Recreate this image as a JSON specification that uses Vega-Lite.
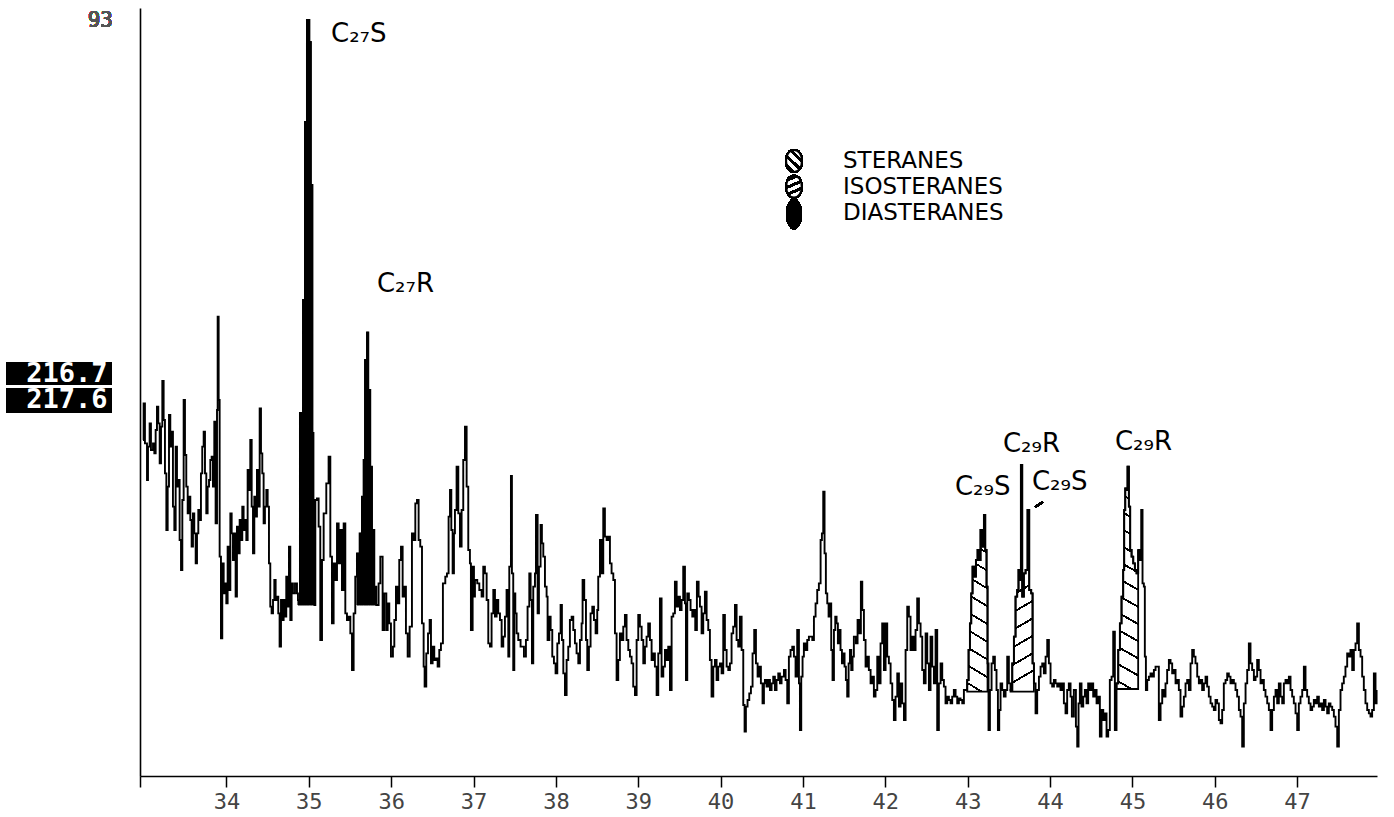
{
  "$schema": "https://vega.github.io/schema/vega-lite/v6.json",
  "width": 1237,
  "height": 768,
  "autosize": {"type": "none"},
  "padding": {"left": 140, "top": 8, "right": 17, "bottom": 41},
  "background": "white",
  "config": {"view": {"stroke": null}, "font": "DejaVu Sans"},
  "datasets": {
    "trace": [
      {"t":32.986,"i":1008},{"t":32.994,"i":1118},{"t":33.010,"i":998},{"t":33.035,"i":888},{"t":33.047,"i":988},{"t":33.067,"i":1058},{"t":33.083,"i":978},{"t":33.108,"i":998},{"t":33.124,"i":968},{"t":33.140,"i":1038},
      {"t":33.156,"i":1108},{"t":33.172,"i":1058},{"t":33.189,"i":938},{"t":33.205,"i":1048},{"t":33.221,"i":1185},{"t":33.237,"i":1068},{"t":33.253,"i":908},{"t":33.270,"i":738},{"t":33.286,"i":868},{"t":33.302,"i":1083},
      {"t":33.318,"i":988},{"t":33.334,"i":1033},{"t":33.350,"i":808},{"t":33.367,"i":738},{"t":33.383,"i":988},{"t":33.399,"i":868},{"t":33.415,"i":888},{"t":33.431,"i":708},{"t":33.448,"i":618},{"t":33.464,"i":828},
      {"t":33.480,"i":1128},{"t":33.496,"i":963},{"t":33.512,"i":868},{"t":33.529,"i":788},{"t":33.545,"i":838},{"t":33.561,"i":768},{"t":33.577,"i":688},{"t":33.593,"i":788},{"t":33.609,"i":728},{"t":33.626,"i":638},
      {"t":33.642,"i":728},{"t":33.658,"i":798},{"t":33.674,"i":768},{"t":33.690,"i":908},{"t":33.706,"i":988},{"t":33.723,"i":1033},{"t":33.739,"i":908},{"t":33.755,"i":788},{"t":33.771,"i":868},{"t":33.788,"i":888},
      {"t":33.804,"i":948},{"t":33.820,"i":958},{"t":33.836,"i":868},{"t":33.852,"i":1063},{"t":33.868,"i":758},{"t":33.885,"i":1098},{"t":33.893,"i":1378},{"t":33.905,"i":1128},{"t":33.917,"i":658},{"t":33.933,"i":413},
      {"t":33.949,"i":638},{"t":33.966,"i":548},{"t":33.982,"i":578},{"t":33.998,"i":518},{"t":34.014,"i":688},{"t":34.030,"i":558},{"t":34.047,"i":788},{"t":34.063,"i":728},{"t":34.079,"i":648},{"t":34.095,"i":728},
      {"t":34.111,"i":538},{"t":34.127,"i":748},{"t":34.144,"i":668},{"t":34.160,"i":768},{"t":34.176,"i":708},{"t":34.192,"i":808},{"t":34.208,"i":738},{"t":34.225,"i":768},{"t":34.241,"i":708},{"t":34.257,"i":918},
      {"t":34.273,"i":858},{"t":34.289,"i":1008},{"t":34.306,"i":808},{"t":34.322,"i":668},{"t":34.338,"i":838},{"t":34.354,"i":778},{"t":34.370,"i":918},{"t":34.386,"i":808},{"t":34.403,"i":1103},{"t":34.419,"i":968},
      {"t":34.435,"i":908},{"t":34.451,"i":758},{"t":34.467,"i":808},{"t":34.484,"i":858},{"t":34.500,"i":808},{"t":34.516,"i":638},{"t":34.532,"i":508},{"t":34.548,"i":488},{"t":34.565,"i":528},{"t":34.581,"i":588},
      {"t":34.597,"i":528},{"t":34.613,"i":538},{"t":34.629,"i":488},{"t":34.645,"i":388},{"t":34.662,"i":528},{"t":34.678,"i":468},{"t":34.694,"i":528},{"t":34.710,"i":478},{"t":34.726,"i":598},{"t":34.743,"i":508},
      {"t":34.759,"i":688},{"t":34.775,"i":468},{"t":34.791,"i":578},{"t":34.807,"i":548},{"t":34.832,"i":578},{"t":34.856,"i":548},
      {"t":34.868,"i":528},{"t":34.892,"i":1089},{"t":34.929,"i":1428},{"t":34.953,"i":1962},{"t":34.977,"i":2268},{"t":35.007,"i":2202},{"t":35.025,"i":1773},{"t":35.044,"i":1029},{"t":35.056,"i":747},{"t":35.068,"i":513},
      {"t":35.079,"i":828},{"t":35.099,"i":833},{"t":35.119,"i":748},{"t":35.139,"i":408},{"t":35.160,"i":648},{"t":35.180,"i":788},{"t":35.212,"i":878},{"t":35.240,"i":958},{"t":35.261,"i":658},{"t":35.281,"i":458},
      {"t":35.301,"i":638},{"t":35.321,"i":588},{"t":35.342,"i":758},{"t":35.362,"i":638},{"t":35.382,"i":738},{"t":35.402,"i":558},{"t":35.423,"i":758},{"t":35.443,"i":488},{"t":35.463,"i":468},{"t":35.483,"i":478},
      {"t":35.504,"i":428},{"t":35.524,"i":318},{"t":35.544,"i":488},{"t":35.564,"i":598},
      {"t":35.584,"i":668},{"t":35.617,"i":728},{"t":35.645,"i":838},{"t":35.665,"i":948},{"t":35.682,"i":1248},{"t":35.706,"i":1331},{"t":35.722,"i":1158},{"t":35.746,"i":928},{"t":35.767,"i":738},{"t":35.795,"i":568},{"t":35.819,"i":513},
      {"t":35.847,"i":578},{"t":35.868,"i":658},{"t":35.896,"i":438},{"t":35.916,"i":548},{"t":35.941,"i":438},{"t":35.957,"i":518},{"t":35.977,"i":458},{"t":35.997,"i":358},{"t":36.021,"i":388},{"t":36.038,"i":468},
      {"t":36.058,"i":568},{"t":36.078,"i":518},{"t":36.098,"i":648},{"t":36.119,"i":688},{"t":36.139,"i":538},{"t":36.159,"i":568},{"t":36.179,"i":428},{"t":36.200,"i":358},{"t":36.224,"i":448},{"t":36.252,"i":728},
      {"t":36.273,"i":708},{"t":36.293,"i":818},{"t":36.313,"i":828},{"t":36.333,"i":708},{"t":36.353,"i":688},{"t":36.374,"i":458},{"t":36.394,"i":328},{"t":36.406,"i":268},{"t":36.426,"i":368},{"t":36.447,"i":428},
      {"t":36.467,"i":468},{"t":36.483,"i":338},{"t":36.503,"i":388},{"t":36.523,"i":348},{"t":36.544,"i":353},{"t":36.564,"i":328},{"t":36.584,"i":378},{"t":36.604,"i":398},{"t":36.628,"i":578},{"t":36.657,"i":598},
      {"t":36.677,"i":608},{"t":36.697,"i":778},
      {"t":36.714,"i":858},{"t":36.730,"i":738},{"t":36.746,"i":608},{"t":36.762,"i":728},{"t":36.774,"i":798},{"t":36.794,"i":928},{"t":36.815,"i":788},{"t":36.835,"i":688},{"t":36.855,"i":798},{"t":36.875,"i":948},
      {"t":36.896,"i":1048},{"t":36.916,"i":868},{"t":36.936,"i":678},{"t":36.956,"i":638},{"t":36.968,"i":438},{"t":36.989,"i":628},{"t":37.005,"i":538},{"t":37.017,"i":588},{"t":37.045,"i":578},{"t":37.070,"i":558},
      {"t":37.098,"i":538},{"t":37.118,"i":628},{"t":37.138,"i":608},{"t":37.159,"i":528},{"t":37.179,"i":398},{"t":37.199,"i":388},{"t":37.219,"i":488},{"t":37.240,"i":558},{"t":37.260,"i":478},{"t":37.280,"i":528},
      {"t":37.300,"i":488},{"t":37.321,"i":468},{"t":37.341,"i":388},{"t":37.361,"i":418},{"t":37.381,"i":478},{"t":37.401,"i":558},{"t":37.422,"i":358},{"t":37.434,"i":628},{"t":37.454,"i":900},{"t":37.466,"i":608},
      {"t":37.482,"i":318},{"t":37.495,"i":548},{"t":37.507,"i":488},{"t":37.523,"i":428},{"t":37.543,"i":408},{"t":37.571,"i":388},{"t":37.612,"i":358},{"t":37.636,"i":408},{"t":37.656,"i":508},{"t":37.677,"i":608},
      {"t":37.693,"i":528},{"t":37.709,"i":338},{"t":37.725,"i":568},{"t":37.746,"i":608},{"t":37.758,"i":783},{"t":37.778,"i":488},{"t":37.794,"i":628},{"t":37.814,"i":753},{"t":37.830,"i":698},{"t":37.847,"i":658},
      {"t":37.867,"i":568},{"t":37.887,"i":538},{"t":37.899,"i":408},{"t":37.920,"i":478},{"t":37.936,"i":438},{"t":37.956,"i":358},{"t":37.976,"i":338},{"t":37.996,"i":308},{"t":38.017,"i":398},{"t":38.037,"i":428},
      {"t":38.057,"i":513},{"t":38.073,"i":408},{"t":38.090,"i":308},{"t":38.110,"i":243},{"t":38.130,"i":348},{"t":38.150,"i":388},{"t":38.170,"i":468},{"t":38.191,"i":478},{"t":38.211,"i":438},{"t":38.231,"i":398},
      {"t":38.251,"i":368},{"t":38.272,"i":338},{"t":38.292,"i":408},{"t":38.312,"i":458},{"t":38.324,"i":588},{"t":38.344,"i":528},{"t":38.365,"i":408},{"t":38.381,"i":318},{"t":38.401,"i":388},{"t":38.421,"i":488},
      {"t":38.442,"i":508},{"t":38.462,"i":468},{"t":38.482,"i":428},{"t":38.502,"i":498},{"t":38.514,"i":598},{"t":38.535,"i":708},{"t":38.555,"i":608},{"t":38.575,"i":803},{"t":38.595,"i":718},{"t":38.616,"i":708},
      {"t":38.636,"i":718},{"t":38.656,"i":638},{"t":38.676,"i":608},{"t":38.697,"i":588},{"t":38.717,"i":428},{"t":38.737,"i":288},{"t":38.757,"i":348},{"t":38.777,"i":428},{"t":38.798,"i":408},{"t":38.818,"i":448},
      {"t":38.838,"i":483},{"t":38.858,"i":408},{"t":38.879,"i":378},{"t":38.899,"i":358},{"t":38.919,"i":338},{"t":38.939,"i":268},{"t":38.960,"i":243},{"t":38.980,"i":408},{"t":39.000,"i":483},{"t":39.020,"i":448},
      {"t":39.041,"i":408},{"t":39.061,"i":338},{"t":39.081,"i":388},{"t":39.101,"i":418},{"t":39.121,"i":458},{"t":39.142,"i":408},{"t":39.162,"i":348},{"t":39.182,"i":368},{"t":39.202,"i":328},{"t":39.223,"i":243},
      {"t":39.243,"i":368},{"t":39.263,"i":533},{"t":39.283,"i":298},{"t":39.304,"i":328},{"t":39.324,"i":378},{"t":39.344,"i":348},{"t":39.364,"i":388},{"t":39.385,"i":258},{"t":39.405,"i":478},{"t":39.425,"i":488},
      {"t":39.445,"i":583},{"t":39.466,"i":508},{"t":39.486,"i":538},{"t":39.506,"i":498},{"t":39.526,"i":528},{"t":39.546,"i":628},{"t":39.567,"i":518},{"t":39.579,"i":288},{"t":39.595,"i":548},{"t":39.615,"i":528},
      {"t":39.635,"i":498},{"t":39.656,"i":478},{"t":39.676,"i":498},{"t":39.692,"i":438},{"t":39.712,"i":583},{"t":39.733,"i":538},{"t":39.749,"i":508},{"t":39.769,"i":428},{"t":39.789,"i":488},{"t":39.809,"i":553},
      {"t":39.830,"i":468},{"t":39.850,"i":438},{"t":39.870,"i":348},{"t":39.890,"i":238},{"t":39.911,"i":328},{"t":39.931,"i":348},{"t":39.951,"i":288},{"t":39.971,"i":328},{"t":39.992,"i":338},{"t":40.012,"i":308},
      {"t":40.032,"i":483},{"t":40.052,"i":378},{"t":40.073,"i":328},{"t":40.093,"i":318},{"t":40.113,"i":338},{"t":40.133,"i":428},{"t":40.153,"i":448},{"t":40.174,"i":513},{"t":40.194,"i":408},{"t":40.214,"i":388},
      {"t":40.234,"i":478},{"t":40.255,"i":378},{"t":40.275,"i":213},{"t":40.291,"i":133},{"t":40.307,"i":208},{"t":40.327,"i":228},{"t":40.348,"i":248},{"t":40.368,"i":268},{"t":40.388,"i":368},{"t":40.408,"i":438},
      {"t":40.429,"i":338},{"t":40.449,"i":298},{"t":40.469,"i":328},
      {"t":40.489,"i":278},{"t":40.509,"i":218},{"t":40.526,"i":278},{"t":40.538,"i":288},{"t":40.558,"i":268},{"t":40.578,"i":288},{"t":40.599,"i":258},{"t":40.619,"i":278},{"t":40.639,"i":298},{"t":40.659,"i":258},
      {"t":40.679,"i":288},{"t":40.700,"i":308},{"t":40.720,"i":278},{"t":40.740,"i":298},{"t":40.769,"i":318},{"t":40.789,"i":288},{"t":40.809,"i":218},{"t":40.829,"i":358},{"t":40.849,"i":378},{"t":40.870,"i":388},
      {"t":40.890,"i":358},{"t":40.910,"i":298},{"t":40.930,"i":438},{"t":40.951,"i":278},{"t":40.963,"i":138},{"t":40.979,"i":298},{"t":40.995,"i":358},{"t":41.011,"i":398},{"t":41.032,"i":378},{"t":41.052,"i":408},
      {"t":41.072,"i":418},{"t":41.113,"i":408},{"t":41.133,"i":478},{"t":41.153,"i":518},{"t":41.173,"i":558},{"t":41.193,"i":578},{"t":41.214,"i":708},{"t":41.230,"i":728},{"t":41.246,"i":853},{"t":41.262,"i":668},
      {"t":41.278,"i":548},{"t":41.295,"i":518},{"t":41.311,"i":478},{"t":41.327,"i":518},{"t":41.343,"i":378},{"t":41.359,"i":288},{"t":41.376,"i":438},{"t":41.392,"i":478},{"t":41.408,"i":458},{"t":41.424,"i":398},
      {"t":41.440,"i":438},{"t":41.456,"i":378},{"t":41.473,"i":338},{"t":41.489,"i":368},{"t":41.505,"i":328},{"t":41.521,"i":288},{"t":41.537,"i":238},{"t":41.554,"i":338},{"t":41.570,"i":378},{"t":41.586,"i":318},
      {"t":41.602,"i":358},{"t":41.618,"i":418},{"t":41.643,"i":398},{"t":41.663,"i":468},{"t":41.683,"i":428},{"t":41.703,"i":583},{"t":41.720,"i":498},{"t":41.740,"i":408},{"t":41.760,"i":328},{"t":41.780,"i":358},
      {"t":41.800,"i":318},{"t":41.821,"i":278},{"t":41.841,"i":298},{"t":41.861,"i":238},{"t":41.881,"i":258},{"t":41.902,"i":358},{"t":41.922,"i":278},{"t":41.942,"i":398},{"t":41.962,"i":458},{"t":41.983,"i":318},
      {"t":42.003,"i":458},{"t":42.023,"i":358},{"t":42.043,"i":338},{"t":42.064,"i":278},{"t":42.084,"i":228},{"t":42.104,"i":168},{"t":42.124,"i":238},{"t":42.145,"i":308},{"t":42.165,"i":208},{"t":42.185,"i":278},
      {"t":42.205,"i":218},{"t":42.226,"i":168},{"t":42.246,"i":378},{"t":42.266,"i":508},{"t":42.286,"i":478},{"t":42.306,"i":378},{"t":42.327,"i":418},{"t":42.347,"i":378},{"t":42.367,"i":438},{"t":42.387,"i":533},
      {"t":42.408,"i":458},{"t":42.428,"i":418},{"t":42.448,"i":318},{"t":42.468,"i":278},{"t":42.489,"i":428},{"t":42.509,"i":338},{"t":42.529,"i":258},{"t":42.549,"i":418},{"t":42.570,"i":328},{"t":42.590,"i":278},
      {"t":42.610,"i":438},{"t":42.630,"i":138},{"t":42.650,"i":278},{"t":42.671,"i":338},{"t":42.691,"i":288},{"t":42.711,"i":268},{"t":42.731,"i":218},{"t":42.752,"i":238},{"t":42.772,"i":228},{"t":42.792,"i":218},
      {"t":42.812,"i":238},{"t":42.832,"i":258},{"t":42.853,"i":238},{"t":42.873,"i":218},{"t":42.893,"i":233},{"t":42.913,"i":228},{"t":42.934,"i":218},{"t":42.954,"i":258},{"t":42.986,"i":258},
      {"t":42.994,"i":288},{"t":43.011,"i":378},{"t":43.027,"i":458},{"t":43.043,"i":548},{"t":43.059,"i":628},{"t":43.079,"i":598},{"t":43.100,"i":648},{"t":43.120,"i":678},{"t":43.140,"i":648},{"t":43.156,"i":738},
      {"t":43.176,"i":688},{"t":43.197,"i":783},{"t":43.213,"i":678},{"t":43.229,"i":568},{"t":43.241,"i":338},{"t":43.253,"i":138},
      {"t":43.270,"i":258},{"t":43.290,"i":338},{"t":43.310,"i":358},{"t":43.330,"i":318},{"t":43.350,"i":258},{"t":43.367,"i":138},{"t":43.383,"i":198},{"t":43.399,"i":278},{"t":43.419,"i":258},{"t":43.439,"i":238},
      {"t":43.460,"i":258},{"t":43.480,"i":358},{"t":43.500,"i":278},
      {"t":43.520,"i":258},{"t":43.541,"i":338},{"t":43.561,"i":418},{"t":43.581,"i":538},{"t":43.601,"i":558},{"t":43.617,"i":618},{"t":43.634,"i":588},{"t":43.646,"i":933},{"t":43.662,"i":538},{"t":43.682,"i":608},
      {"t":43.703,"i":618},{"t":43.727,"i":798},{"t":43.747,"i":558},{"t":43.771,"i":548},{"t":43.788,"i":338},{"t":43.804,"i":278},
      {"t":43.824,"i":188},{"t":43.844,"i":258},{"t":43.865,"i":298},{"t":43.885,"i":328},{"t":43.905,"i":338},{"t":43.925,"i":308},{"t":43.946,"i":358},{"t":43.966,"i":408},{"t":43.986,"i":338},{"t":44.006,"i":278},
      {"t":44.026,"i":268},{"t":44.047,"i":288},{"t":44.067,"i":278},{"t":44.087,"i":268},{"t":44.107,"i":278},{"t":44.127,"i":258},{"t":44.148,"i":278},{"t":44.168,"i":218},{"t":44.188,"i":188},{"t":44.208,"i":258},
      {"t":44.228,"i":278},
      {"t":44.249,"i":238},{"t":44.265,"i":178},{"t":44.289,"i":258},{"t":44.314,"i":148},{"t":44.330,"i":88},{"t":44.346,"i":218},{"t":44.362,"i":278},{"t":44.382,"i":208},{"t":44.403,"i":238},{"t":44.423,"i":258},
      {"t":44.443,"i":218},{"t":44.463,"i":278},{"t":44.484,"i":258},{"t":44.504,"i":278},{"t":44.524,"i":238},{"t":44.544,"i":258},{"t":44.565,"i":218},{"t":44.585,"i":238},{"t":44.605,"i":118},{"t":44.625,"i":198},
      {"t":44.646,"i":168},{"t":44.666,"i":188},{"t":44.686,"i":118},{"t":44.706,"i":138},{"t":44.726,"i":288},{"t":44.747,"i":298},{"t":44.767,"i":433},{"t":44.787,"i":138},
      {"t":44.807,"i":278},{"t":44.828,"i":378},{"t":44.848,"i":458},{"t":44.868,"i":538},{"t":44.888,"i":618},{"t":44.900,"i":798},{"t":44.913,"i":863},{"t":44.929,"i":858},{"t":44.941,"i":928},{"t":44.957,"i":808},
      {"t":44.973,"i":678},{"t":44.990,"i":658},{"t":45.010,"i":638},{"t":45.030,"i":618},{"t":45.050,"i":608},{"t":45.070,"i":678},
      {"t":45.091,"i":648},{"t":45.107,"i":798},{"t":45.123,"i":578},{"t":45.139,"i":568},{"t":45.151,"i":358},{"t":45.164,"i":258},{"t":45.180,"i":288},{"t":45.200,"i":298},{"t":45.220,"i":308},{"t":45.240,"i":298},
      {"t":45.261,"i":318},{"t":45.281,"i":328},{"t":45.321,"i":168},{"t":45.342,"i":218},{"t":45.362,"i":258},{"t":45.382,"i":238},{"t":45.402,"i":278},{"t":45.422,"i":318},{"t":45.443,"i":348},{"t":45.463,"i":338},
      {"t":45.483,"i":308},{"t":45.503,"i":318},{"t":45.524,"i":278},{"t":45.544,"i":288},{"t":45.564,"i":258},{"t":45.584,"i":178},{"t":45.605,"i":208},{"t":45.625,"i":238},{"t":45.645,"i":278},{"t":45.665,"i":288},
      {"t":45.686,"i":258},{"t":45.706,"i":338},{"t":45.726,"i":378},{"t":45.746,"i":358},{"t":45.766,"i":338},{"t":45.787,"i":298},{"t":45.807,"i":278},{"t":45.827,"i":288},{"t":45.847,"i":258},{"t":45.868,"i":278},
      {"t":45.888,"i":298},{"t":45.908,"i":268},{"t":45.928,"i":238},{"t":45.949,"i":218},{"t":45.969,"i":208},{"t":45.989,"i":198},{"t":46.009,"i":228},{"t":46.029,"i":218},{"t":46.050,"i":168},{"t":46.070,"i":158},
      {"t":46.090,"i":198},{"t":46.110,"i":278},{"t":46.131,"i":288},{"t":46.151,"i":308},{"t":46.171,"i":298},{"t":46.191,"i":278},{"t":46.212,"i":288},{"t":46.232,"i":278},{"t":46.252,"i":258},{"t":46.272,"i":238},
      {"t":46.293,"i":198},{"t":46.313,"i":178},{"t":46.333,"i":88},{"t":46.353,"i":218},{"t":46.374,"i":278},{"t":46.394,"i":318},{"t":46.414,"i":398},{"t":46.434,"i":338},{"t":46.454,"i":318},{"t":46.475,"i":288},
      {"t":46.495,"i":298},{"t":46.515,"i":348},{"t":46.535,"i":318},{"t":46.556,"i":278},{"t":46.576,"i":288},{"t":46.596,"i":258},{"t":46.616,"i":238},{"t":46.637,"i":218},{"t":46.657,"i":198},{"t":46.677,"i":138},
      {"t":46.697,"i":198},{"t":46.718,"i":238},{"t":46.738,"i":258},{"t":46.758,"i":218},{"t":46.778,"i":278},{"t":46.799,"i":238},{"t":46.819,"i":218},{"t":46.839,"i":278},{"t":46.859,"i":288},{"t":46.879,"i":278},
      {"t":46.900,"i":298},{"t":46.920,"i":258},{"t":46.940,"i":238},{"t":46.960,"i":218},{"t":46.981,"i":188},{"t":47.001,"i":138},{"t":47.021,"i":218},{"t":47.041,"i":238},{"t":47.062,"i":258},{"t":47.082,"i":328},
      {"t":47.102,"i":258},{"t":47.122,"i":238},{"t":47.142,"i":218},{"t":47.163,"i":198},{"t":47.183,"i":208},{"t":47.203,"i":228},{"t":47.223,"i":218},{"t":47.244,"i":238},{"t":47.264,"i":208},{"t":47.284,"i":218},
      {"t":47.304,"i":198},{"t":47.325,"i":228},{"t":47.345,"i":208},{"t":47.365,"i":188},{"t":47.385,"i":218},{"t":47.405,"i":208},{"t":47.426,"i":198},{"t":47.446,"i":178},{"t":47.466,"i":148},{"t":47.487,"i":88},
      {"t":47.507,"i":198},{"t":47.527,"i":258},{"t":47.547,"i":278},{"t":47.567,"i":298},{"t":47.587,"i":328},{"t":47.608,"i":368},{"t":47.628,"i":358},{"t":47.648,"i":378},{"t":47.669,"i":318},{"t":47.689,"i":378},
      {"t":47.709,"i":398},{"t":47.729,"i":458},{"t":47.750,"i":378},{"t":47.770,"i":358},{"t":47.790,"i":298},{"t":47.810,"i":258},{"t":47.830,"i":218},{"t":47.851,"i":198},{"t":47.871,"i":188},{"t":47.891,"i":178},
      {"t":47.911,"i":198},{"t":47.932,"i":308},{"t":47.952,"i":218},{"t":47.965,"i":258}
    ],
    "peakLabels": [
      {"t":35.269,"i":2202,"label":"C₂₇S"},
      {"t":35.827,"i":1452,"label":"C₂₇R"},
      {"t":42.845,"i":843,"label":"C₂₉S"},
      {"t":43.428,"i":972,"label":"C₂₉R"},
      {"t":43.780,"i":858,"label":"C₂₉S"},
      {"t":44.788,"i":978,"label":"C₂₉R"}
    ],
    "legendItems": [
      {"t":41.486,"i":1845,"label":"STERANES"},
      {"t":41.486,"i":1768,"label":"ISOSTERANES"},
      {"t":41.486,"i":1690,"label":"DIASTERANES"}
    ],
    "massLabels": [
      {"t":32.063,"i":1207,"label":"216.7"},
      {"t":32.063,"i":1127,"label":"217.6"}
    ]
  },
  "data": {"name": "trace"},
  "encoding": {
    "x": {
      "field": "t",
      "type": "quantitative",
      "scale": {"domain": [32.95, 47.97], "nice": false, "zero": false},
      "axis": {
        "title": null,
        "grid": false,
        "values": [32.95, 34, 35, 36, 37, 38, 39, 40, 41, 42, 43, 44, 45, 46, 47],
        "labelExpr": "datum.value < 33.5 ? '' : format(datum.value, 'd')",
        "domainColor": "black",
        "domainWidth": 1.6,
        "tickColor": "black",
        "tickWidth": 1.5,
        "tickSize": 11,
        "labelFont": "DejaVu Sans Mono",
        "labelFontSize": 22,
        "labelColor": "#444444",
        "labelPadding": 4,
        "labelFlush": false,
        "labelOverlap": false
      }
    },
    "y": {
      "field": "i",
      "type": "quantitative",
      "scale": {"domain": [0, 2304], "nice": false, "zero": false},
      "axis": {"title": null, "labels": false, "ticks": false, "grid": false, "domainColor": "black", "domainWidth": 1.6}
    }
  },
  "layer": [
    {
      "transform": [{"filter": {"field": "t", "range": [34.86, 35.07]}}],
      "mark": {"type": "area", "interpolate": "step-after", "fill": "black", "stroke": "black", "strokeWidth": 1},
      "encoding": {"y2": {"datum": 513}}
    },
    {
      "transform": [{"filter": {"field": "t", "range": [35.58, 35.82]}}],
      "mark": {"type": "area", "interpolate": "step-after", "fill": "black", "stroke": "black", "strokeWidth": 1},
      "encoding": {"y2": {"datum": 513}}
    },
    {
      "transform": [{"filter": {"field": "t", "range": [42.99, 43.245]}}],
      "mark": {
        "type": "area", "interpolate": "step-after", "stroke": "black", "strokeWidth": 1.8,
        "fill": {"gradient": "linear", "x1": 0.07, "y1": 0, "x2": 0, "y2": 1, "stops": [
          {"offset": 0, "color": "white"},
          {"offset": 0.044, "color": "white"}, {"offset": 0.044, "color": "black"}, {"offset": 0.056, "color": "black"}, {"offset": 0.056, "color": "white"},
          {"offset": 0.144, "color": "white"}, {"offset": 0.144, "color": "black"}, {"offset": 0.156, "color": "black"}, {"offset": 0.156, "color": "white"},
          {"offset": 0.244, "color": "white"}, {"offset": 0.244, "color": "black"}, {"offset": 0.256, "color": "black"}, {"offset": 0.256, "color": "white"},
          {"offset": 0.344, "color": "white"}, {"offset": 0.344, "color": "black"}, {"offset": 0.356, "color": "black"}, {"offset": 0.356, "color": "white"},
          {"offset": 0.444, "color": "white"}, {"offset": 0.444, "color": "black"}, {"offset": 0.456, "color": "black"}, {"offset": 0.456, "color": "white"},
          {"offset": 0.544, "color": "white"}, {"offset": 0.544, "color": "black"}, {"offset": 0.556, "color": "black"}, {"offset": 0.556, "color": "white"},
          {"offset": 0.644, "color": "white"}, {"offset": 0.644, "color": "black"}, {"offset": 0.656, "color": "black"}, {"offset": 0.656, "color": "white"},
          {"offset": 0.744, "color": "white"}, {"offset": 0.744, "color": "black"}, {"offset": 0.756, "color": "black"}, {"offset": 0.756, "color": "white"},
          {"offset": 0.844, "color": "white"}, {"offset": 0.844, "color": "black"}, {"offset": 0.856, "color": "black"}, {"offset": 0.856, "color": "white"},
          {"offset": 0.944, "color": "white"}, {"offset": 0.944, "color": "black"}, {"offset": 0.956, "color": "black"}, {"offset": 0.956, "color": "white"},
          {"offset": 1, "color": "white"}
        ]}
      },
      "encoding": {"y2": {"datum": 253}}
    },
    {
      "transform": [{"filter": {"field": "t", "range": [43.515, 43.805]}}],
      "mark": {
        "type": "area", "interpolate": "step-after", "stroke": "black", "strokeWidth": 1.8,
        "fill": {"gradient": "linear", "x1": 0, "y1": 0, "x2": 0.06, "y2": 1, "stops": [
          {"offset": 0, "color": "white"},
          {"offset": 0.0335, "color": "white"}, {"offset": 0.0335, "color": "black"}, {"offset": 0.0435, "color": "black"}, {"offset": 0.0435, "color": "white"},
          {"offset": 0.1104, "color": "white"}, {"offset": 0.1104, "color": "black"}, {"offset": 0.1204, "color": "black"}, {"offset": 0.1204, "color": "white"},
          {"offset": 0.1873, "color": "white"}, {"offset": 0.1873, "color": "black"}, {"offset": 0.1973, "color": "black"}, {"offset": 0.1973, "color": "white"},
          {"offset": 0.2642, "color": "white"}, {"offset": 0.2642, "color": "black"}, {"offset": 0.2742, "color": "black"}, {"offset": 0.2742, "color": "white"},
          {"offset": 0.3412, "color": "white"}, {"offset": 0.3412, "color": "black"}, {"offset": 0.3512, "color": "black"}, {"offset": 0.3512, "color": "white"},
          {"offset": 0.4181, "color": "white"}, {"offset": 0.4181, "color": "black"}, {"offset": 0.4281, "color": "black"}, {"offset": 0.4281, "color": "white"},
          {"offset": 0.495, "color": "white"}, {"offset": 0.495, "color": "black"}, {"offset": 0.505, "color": "black"}, {"offset": 0.505, "color": "white"},
          {"offset": 0.5719, "color": "white"}, {"offset": 0.5719, "color": "black"}, {"offset": 0.5819, "color": "black"}, {"offset": 0.5819, "color": "white"},
          {"offset": 0.6488, "color": "white"}, {"offset": 0.6488, "color": "black"}, {"offset": 0.6588, "color": "black"}, {"offset": 0.6588, "color": "white"},
          {"offset": 0.7258, "color": "white"}, {"offset": 0.7258, "color": "black"}, {"offset": 0.7358, "color": "black"}, {"offset": 0.7358, "color": "white"},
          {"offset": 0.8027, "color": "white"}, {"offset": 0.8027, "color": "black"}, {"offset": 0.8127, "color": "black"}, {"offset": 0.8127, "color": "white"},
          {"offset": 0.8796, "color": "white"}, {"offset": 0.8796, "color": "black"}, {"offset": 0.8896, "color": "black"}, {"offset": 0.8896, "color": "white"},
          {"offset": 0.9565, "color": "white"}, {"offset": 0.9565, "color": "black"}, {"offset": 0.9665, "color": "black"}, {"offset": 0.9665, "color": "white"},
          {"offset": 1, "color": "white"}
        ]}
      },
      "encoding": {"y2": {"datum": 253}}
    },
    {
      "transform": [{"filter": {"field": "t", "range": [44.80, 45.075]}}],
      "mark": {
        "type": "area", "interpolate": "step-after", "stroke": "black", "strokeWidth": 1.8,
        "fill": {"gradient": "linear", "x1": 0.055, "y1": 0, "x2": 0, "y2": 1, "stops": [
          {"offset": 0, "color": "white"},
          {"offset": 0.0335, "color": "white"}, {"offset": 0.0335, "color": "black"}, {"offset": 0.0435, "color": "black"}, {"offset": 0.0435, "color": "white"},
          {"offset": 0.1104, "color": "white"}, {"offset": 0.1104, "color": "black"}, {"offset": 0.1204, "color": "black"}, {"offset": 0.1204, "color": "white"},
          {"offset": 0.1873, "color": "white"}, {"offset": 0.1873, "color": "black"}, {"offset": 0.1973, "color": "black"}, {"offset": 0.1973, "color": "white"},
          {"offset": 0.2642, "color": "white"}, {"offset": 0.2642, "color": "black"}, {"offset": 0.2742, "color": "black"}, {"offset": 0.2742, "color": "white"},
          {"offset": 0.3412, "color": "white"}, {"offset": 0.3412, "color": "black"}, {"offset": 0.3512, "color": "black"}, {"offset": 0.3512, "color": "white"},
          {"offset": 0.4181, "color": "white"}, {"offset": 0.4181, "color": "black"}, {"offset": 0.4281, "color": "black"}, {"offset": 0.4281, "color": "white"},
          {"offset": 0.495, "color": "white"}, {"offset": 0.495, "color": "black"}, {"offset": 0.505, "color": "black"}, {"offset": 0.505, "color": "white"},
          {"offset": 0.5719, "color": "white"}, {"offset": 0.5719, "color": "black"}, {"offset": 0.5819, "color": "black"}, {"offset": 0.5819, "color": "white"},
          {"offset": 0.6488, "color": "white"}, {"offset": 0.6488, "color": "black"}, {"offset": 0.6588, "color": "black"}, {"offset": 0.6588, "color": "white"},
          {"offset": 0.7258, "color": "white"}, {"offset": 0.7258, "color": "black"}, {"offset": 0.7358, "color": "black"}, {"offset": 0.7358, "color": "white"},
          {"offset": 0.8027, "color": "white"}, {"offset": 0.8027, "color": "black"}, {"offset": 0.8127, "color": "black"}, {"offset": 0.8127, "color": "white"},
          {"offset": 0.8796, "color": "white"}, {"offset": 0.8796, "color": "black"}, {"offset": 0.8896, "color": "black"}, {"offset": 0.8896, "color": "white"},
          {"offset": 0.9565, "color": "white"}, {"offset": 0.9565, "color": "black"}, {"offset": 0.9665, "color": "black"}, {"offset": 0.9665, "color": "white"},
          {"offset": 1, "color": "white"}
        ]}
      },
      "encoding": {"y2": {"datum": 261}}
    },
    {
      "mark": {"type": "line", "interpolate": "step-after", "color": "black", "strokeWidth": 1.9}
    },
    {
      "data": {"name": "peakLabels"},
      "mark": {"type": "text", "align": "left", "baseline": "alphabetic", "fontSize": 26, "font": "DejaVu Sans", "color": "black"},
      "encoding": {"text": {"field": "label"}}
    },
    {
      "mark": {"type": "rule", "color": "black", "strokeWidth": 1.5},
      "encoding": {
        "x": {"datum": 43.817}, "y": {"datum": 807},
        "x2": {"datum": 43.914}, "y2": {"datum": 822}
      }
    },
    {
      "data": {"name": "legendItems"},
      "mark": {"type": "text", "align": "left", "baseline": "middle", "fontSize": 23, "font": "DejaVu Sans", "color": "black"},
      "encoding": {"text": {"field": "label"}}
    },
    {
      "mark": {
        "type": "point", "filled": true, "size": 480, "strokeWidth": 2, "stroke": "black", "opacity": 1,
        "shape": "M0,-1C0.45,-1 0.72,-0.55 0.72,0C0.72,0.55 0.45,1 0,1C-0.45,1 -0.72,0.55 -0.72,0C-0.72,-0.55 -0.45,-1 0,-1Z",
        "fill": {"gradient": "linear", "x1": 0.7, "y1": 0, "x2": 0, "y2": 1, "stops": [
          {"offset": 0, "color": "white"},
          {"offset": 0.13, "color": "white"}, {"offset": 0.13, "color": "black"}, {"offset": 0.27, "color": "black"}, {"offset": 0.27, "color": "white"},
          {"offset": 0.43, "color": "white"}, {"offset": 0.43, "color": "black"}, {"offset": 0.57, "color": "black"}, {"offset": 0.57, "color": "white"},
          {"offset": 0.73, "color": "white"}, {"offset": 0.73, "color": "black"}, {"offset": 0.87, "color": "black"}, {"offset": 0.87, "color": "white"},
          {"offset": 1, "color": "white"}
        ]}
      },
      "encoding": {"x": {"datum": 40.891}, "y": {"datum": 1845}}
    },
    {
      "mark": {
        "type": "point", "filled": true, "size": 480, "strokeWidth": 2, "stroke": "black", "opacity": 1,
        "shape": "M0,-1C0.45,-1 0.7,-0.55 0.7,0C0.7,0.55 0.45,1 0,1C-0.45,1 -0.7,0.55 -0.7,0C-0.7,-0.55 -0.45,-1 0,-1Z",
        "fill": {"gradient": "linear", "x1": 0, "y1": 0, "x2": 0.3, "y2": 1, "stops": [
          {"offset": 0, "color": "white"},
          {"offset": 0.13, "color": "white"}, {"offset": 0.13, "color": "black"}, {"offset": 0.27, "color": "black"}, {"offset": 0.27, "color": "white"},
          {"offset": 0.43, "color": "white"}, {"offset": 0.43, "color": "black"}, {"offset": 0.57, "color": "black"}, {"offset": 0.57, "color": "white"},
          {"offset": 0.73, "color": "white"}, {"offset": 0.73, "color": "black"}, {"offset": 0.87, "color": "black"}, {"offset": 0.87, "color": "white"},
          {"offset": 1, "color": "white"}
        ]}
      },
      "encoding": {"x": {"datum": 40.891}, "y": {"datum": 1768}}
    },
    {
      "mark": {
        "type": "point", "filled": true, "size": 900, "strokeWidth": 1, "stroke": "black", "fill": "black", "opacity": 1,
        "shape": "M0,-1C0.3,-1 0.5,-0.55 0.5,0C0.5,0.55 0.3,1 0,1C-0.3,1 -0.5,0.55 -0.5,0C-0.5,-0.55 -0.3,-1 0,-1Z"
      },
      "encoding": {"x": {"datum": 40.891}, "y": {"datum": 1686}}
    },
    {
      "mark": {"type": "text", "text": "93", "align": "right", "baseline": "middle", "fontSize": 21, "font": "DejaVu Sans Mono", "color": "#555555"},
      "encoding": {"x": {"datum": 32.622}, "y": {"datum": 2265}}
    },
    {
      "mark": {"type": "rect", "color": "black"},
      "encoding": {"x": {"datum": 31.335}, "x2": {"datum": 32.61}, "y": {"datum": 1173}, "y2": {"datum": 1242}}
    },
    {
      "mark": {"type": "rect", "color": "black"},
      "encoding": {"x": {"datum": 31.335}, "x2": {"datum": 32.61}, "y": {"datum": 1089}, "y2": {"datum": 1164}}
    },
    {
      "data": {"name": "massLabels"},
      "mark": {"type": "text", "align": "center", "baseline": "middle", "fontSize": 27, "fontWeight": "bold", "font": "DejaVu Sans Mono", "color": "white"},
      "encoding": {"text": {"field": "label"}}
    }
  ]
}
